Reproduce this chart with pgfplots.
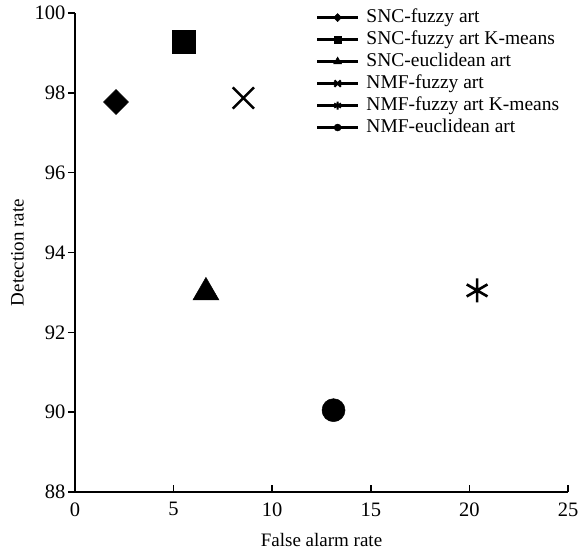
\documentclass[border=0pt]{standalone}
\usepackage{fontspec}
\setmainfont{Liberation Serif}
\usepackage{pgfplots}
\pgfplotsset{compat=1.18}
\begin{document}
\begin{tikzpicture}
\begin{axis}[
  scale only axis, width=493pt, height=479pt,
  xmin=0, xmax=25, ymin=88, ymax=100,
  xtick={0,5,...,25}, ytick={88,90,...,100},
  axis lines*=left,
  axis line style={line width=2pt},
  tick style={line width=1.6pt, black},
  major tick length=7pt,
  tick align=outside,
  x tick style={yshift=7pt},
  /pgf/number format/assume math mode=true,
  ticklabel style={font=\fontsize{20.5}{23}\selectfont},
  yticklabel style={xshift=1pt},
  xlabel={False alarm rate}, ylabel={Detection rate},
  label style={font=\fontsize{19}{22}\selectfont},
  xlabel style={yshift=-10pt},
  ylabel style={yshift=4pt},
  legend cell align=left,
  legend style={draw=none, fill=none, at={(0.482,1.016)}, anchor=north west,
    font=\fontsize{19.5}{22}\selectfont, row sep=2pt,
    nodes={inner sep=1pt, text height=14pt, text depth=4pt},
    /tikz/every odd column/.append style={column sep=6pt}},
  legend image code/.code={\draw[mark repeat=2,mark phase=2,#1, line width=2.6pt] plot coordinates {(0pt,0pt) (20.5pt,0pt) (41pt,0pt)};},
  every axis plot/.append style={black, line width=1.5pt},
]
\addplot[mark=diamond*, mark size=12.5pt, mark options={xscale=1.33, line width=0.5pt}, legend image post style={mark size=4pt}] coordinates {(2.08,97.77)};
\addlegendentry{SNC-fuzzy art}
\addplot[mark=square*, mark size=11.5pt, mark options={line width=0.5pt}, legend image post style={mark size=3.5pt}] coordinates {(5.53,99.27)};
\addlegendentry{SNC-fuzzy art K-means}
\addplot[mark=triangle*, mark size=15pt, mark options={line width=0.5pt}, legend image post style={mark size=4.5pt}] coordinates {(6.64,93.0)};
\addlegendentry{SNC-euclidean art}
\addplot[mark=x, mark size=15pt, mark options={line width=2.4pt}, legend image post style={mark size=4.5pt, mark options={line width=2pt}}] coordinates {(8.54,97.87)};
\addlegendentry{NMF-fuzzy art}
\addplot[mark=asterisk, mark size=12pt, mark options={line width=2.6pt}, legend image post style={mark size=4pt, mark options={line width=2pt}}] coordinates {(20.39,93.05)};
\addlegendentry{NMF-fuzzy art K-means}
\addplot[mark=*, mark size=11.5pt, mark options={line width=0.5pt}, legend image post style={mark size=3.5pt}] coordinates {(13.11,90.05)};
\addlegendentry{NMF-euclidean art}
\end{axis}
\path ([shift={(-75pt,-62pt)}]current axis.south west) rectangle ([shift={(14pt,13pt)}]current axis.north east);
\end{tikzpicture}
\end{document}
